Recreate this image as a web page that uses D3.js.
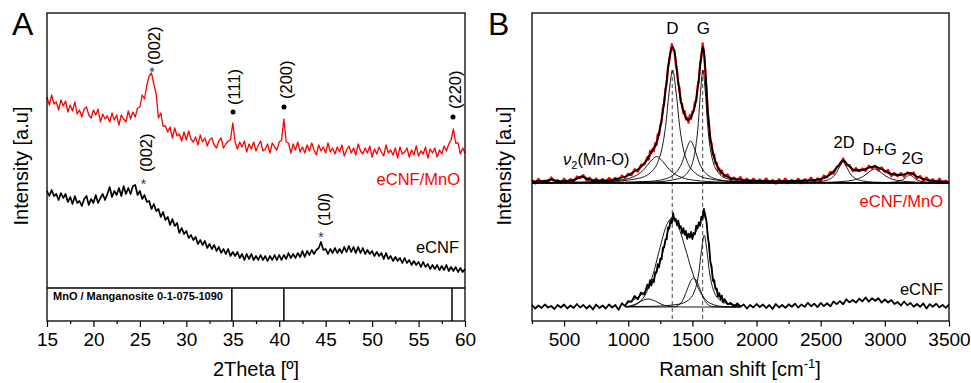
<!DOCTYPE html>
<html><head><meta charset="utf-8">
<script src="https://cdn.jsdelivr.net/npm/d3@7"></script>
<style>
html,body{margin:0;padding:0;background:#fff;}
svg{display:block;}
</style></head><body>
<svg id="chart" width="971" height="383"></svg>
<script>
// ================= DATA =================
// ---- Panel A: XRD (2Theta from 15 to 60, step 0.25) ----
const xrdStart = 15, xrdStep = 0.25;
const xrdMnO = [
191,183,193,184,186,178,188,182,187,176,
183,177,186,174,178,171,179,181,173,170,
178,173,179,166,174,169,172,166,175,168,
173,163,173,169,166,177,169,176,171,180,
181,193,189,203,212,215,204,194,170,175,
162,162,156,161,150,160,152,154,147,156,
148,157,149,146,151,143,153,146,150,142,
148,150,143,140,147,150,140,144,147,148,
165,146,139,146,141,147,136,144,139,146,
137,143,147,137,139,144,135,145,141,138,
146,148,169,146,145,135,144,138,146,136,
141,135,143,137,145,138,133,143,137,141,
135,145,136,140,134,141,136,143,132,138,
142,135,140,133,144,137,134,140,135,142,
131,139,134,141,136,132,143,135,138,133,
140,130,141,134,136,140,131,138,133,142,
132,137,134,141,130,139,135,140,131,138,
134,142,137,144,148,159,145,145,134,140,
135];
const xrdCNF = [
97,92,98,92,94,88,95,90,94,86,
91,84,92,85,87,82,89,92,83,89,
85,93,85,90,94,88,94,101,91,97,
93,100,92,102,94,100,94,102,103,93,
97,89,93,86,87,79,84,77,79,71,
76,68,71,63,69,62,65,55,60,54,
57,50,53,48,51,44,48,43,47,40,
44,39,43,37,41,35,39,34,39,32,
36,32,36,30,34,28,34,29,34,28,
32,28,33,28,32,27,32,28,33,28,
33,28,33,29,35,30,34,30,35,31,
37,31,37,33,38,34,38,40,46,38,
39,34,39,35,40,35,39,35,41,36,
42,36,41,35,41,35,40,34,38,34,
37,32,36,32,35,29,35,29,32,27,
31,27,30,25,30,25,28,23,27,23,
26,21,26,21,24,19,23,19,23,18,
22,18,23,17,21,17,21,16,20,16,
19];
const xrdRefLines = [34.9, 40.5, 58.6];   // MnO / Manganosite 0-1-075-1090
const xrdTicks = [15,20,25,30,35,40,45,50,55,60];
const xrdMinorTicks = [17.5,22.5,27.5,32.5,37.5,42.5,47.5,52.5,57.5];

// ---- Panel B: Raman ----
const ramanShift = d3.range(250,1150,25).concat(d3.range(1150,1750,10), d3.range(1750,3501,25));
const ramanMnO = [
3,-0.5,4,0.8,2.5,0.2,5.5,1.3,3,-0.1,4.3,1.1,4,1.3,6.5,4.8,7.9,2.7,5.4,0.7,
4.5,1,4.1,0.6,5.2,2.4,5.1,2.7,7.5,5,9.3,7.8,13.8,11.3,18.4,18.4,
26.2,23.4,32.1,29.8,34,31.8,40,37.8,49,48,
57.5,61,75,79.9,94.2,99,116,122,131.5,139,
133,132.5,119,112.5,99,95.1,80.5,79.3,69.7,72,
63.5,65.3,60.4,67.9,64.3,71.5,72.5,81.3,81.8,95.9,
102,119,126,139.7,131,113,96,70.8,58.7,42,
40,28,28.5,19.5,20.3,12.7,14.5,9.3,12.5,8.3,
6.5,8.5,2.5,5.5,3,6,1,4.3,0.1,4.4,
1.2,3.7,0.1,4.6,0.5,3,-0.6,3.9,0.8,4.4,
0,3.1,0.7,4.3,-0.2,3.9,1.5,5.4,1.3,4.6,
2,7.6,5.6,11.2,9.3,16.3,18.1,24.5,17.6,18,
11.8,15,11.75,14.5,12,17.3,14.5,17.3,12.6,15.7,
11.1,13.1,7,10.1,6.8,10.1,6.3,10.5,8.6,10.6,
4.5,7,2,5.5,1.5,3.75,0,4.25,0,2.35,
-0.8];
const ramanCNF = [
2,-1.5,1.5,-1,2.5,-0.5,1,-2,2,-0.5,2.5,-1.5,1.5,-1,3,-0.5,2,-1.5,1.5,-2.5,
2.5,-1,1.5,-1.5,2.5,-0.5,2,-2.9,3.7,0.9,6,5.1,11,7.7,14.5,12.3,
22.5,19.2,26.8,21.5,27.2,24.8,34.8,34.3,42.9,39.9,
48.5,47.5,59.3,59.6,67.4,67.7,79.5,78.3,86.6,83.8,
93.9,86.3,88.2,81.6,86.5,79,80.7,73.7,78.8,72.4,
76,68.1,73.3,69.5,75.2,67.9,74.2,72.6,81.4,78.8,
84.6,81.1,90.4,88.2,98,90,85.7,70.1,62.3,45.2,
40.2,26,27,18,18.5,10.5,13.8,7.9,11.4,4.5,
7.9,2.8,4.2,0.4,3.6,0.3,2.5,-1.5,2,-0.5,
3,0,2.5,-1,2,-2,3,-0.5,2,-0.9,
2.7,0.25,3.3,-0.6,2.5,0.1,4.2,0.75,3.3,-0.1,
4,0.9,3.75,0.6,5.5,2.9,5.8,2.75,7.7,4.6,
7,4.4,8.3,5.7,9.5,5.4,8.7,6.25,8.8,4.4,
7.5,4.5,7,3,5,1.5,5.5,1.75,4,0.25,
3,0.25,3.5,-1.55,2.9,0.3,3.25,-0.3,2.1,-0.95,
2.5];
const ramanOffsetMnO = 124, ramanOffsetCNF = 0;

// fitted envelopes [shift, intensity]
const fitMnO = [[250,1.5],[300,1.5],[350,2],[403,3.5],[450,2],[500,1.8],[550,2.5],[600,4.5],[637,6.5],[680,4.5],[750,2.5],[850,2.7],[935,5],[990,7],[1040,11],[1090,15],[1140,22],[1190,33],[1221,40],[1250,56],[1275,76],[1300,103],[1325,128],[1346,136],[1365,128],[1385,106],[1410,82],[1440,68],[1467,63],[1495,67],[1525,80],[1550,104],[1570,128],[1582,136],[1595,125],[1610,92],[1625,64],[1640,45],[1660,30],[1680,21],[1710,13],[1750,8],[1800,5],[1900,3],[2000,2.2],[2200,1.8],[2400,2.5],[2500,4],[2580,9],[2630,16],[2674,22.6],[2720,17],[2770,12.5],[2830,13],[2880,15.5],[2921,16.5],[2970,14],[3050,9],[3120,8],[3194,10],[3250,6.5],[3350,2.5],[3450,1.5],[3500,1.2]];
const fitCNF = [[980,3],[1039,7],[1117,14],[1195,27],[1260,50],[1311,77],[1346,90],[1403,81],[1455,71],[1507,72],[1558,84],[1597,95],[1615,80],[1636,51],[1655,33],[1675,21],[1705,12],[1740,7],[1818,2],[1870,1.5]];

// fitted components, eCNF/MnO
const compMnO_400 = [[250,0.15],[333,0.6],[368,1.5],[385,2.4],[403,3],[421,2.4],[438,1.5],[473,0.6],[578,0.12],[900,0.02],[3500,0]];
const compMnO_640 = [[250,0.08],[502,0.6],[547,1.2],[570,1.85],[592,3],[615,4.8],[637,6],[659,4.8],[682,3],[704,1.85],[727,1.2],[772,0.6],[862,0.23],[1087,0.06],[3500,0]];
const compMnO_1220 = [[250,0.28],[721,1],[921,2.65],[1021,5.3],[1071,8.2],[1121,13.25],[1171,21.2],[1221,26.5],[1271,21.2],[1321,13.25],[1371,8.2],[1421,5.3],[1521,2.65],[1721,1],[2221,0.26],[3500,0.04]];
const compMnO_D = [[250,0.28],[796,1.1],[1071,4.35],[1181,11.3],[1236,22.6],[1263.5,34.8],[1291,56.5],[1318.5,90.4],[1346,113],[1373.5,90.4],[1401,56.5],[1428.5,34.8],[1456,22.6],[1511,11.3],[1621,4.35],[1896,1.1],[3500,0.07]];
const compMnO_1490 = [[250,0.11],[836,0.42],[1161,1.6],[1291,4.2],[1356,8.4],[1388.5,12.9],[1421,21],[1453.5,33.6],[1486,42],[1518.5,33.6],[1551,21],[1583.5,12.9],[1616,8.4],[1681,4.2],[1811,1.6],[2136,0.42],[3500,0.04]];
const compMnO_G = [[250,0.09],[1202,1.1],[1392,4.35],[1468,11.3],[1506,22.6],[1525,34.8],[1544,56.5],[1563,90.4],[1582,113],[1601,90.4],[1620,56.5],[1639,34.8],[1658,22.6],[1696,11.3],[1772,4.35],[1962,1.1],[3500,0.06]];
const compMnO_2D = [[250,0.01],[2174,0.21],[2424,0.8],[2524,2.1],[2574,4.2],[2599,6.5],[2624,10.5],[2649,16.8],[2674,21],[2699,16.8],[2724,10.5],[2749,6.5],[2774,4.2],[2824,2.1],[2924,0.8],[3174,0.21],[3500,0.05]];
const compMnO_DG = [[250,0.01],[2071,0.14],[2496,0.54],[2666,1.4],[2751,2.8],[2793.5,4.3],[2836,7],[2878.5,11.2],[2921,14],[2963.5,11.2],[3006,7],[3048.5,4.3],[3091,2.8],[3176,1.4],[3346,0.54],[3500,0.3]];
const compMnO_2G = [[250,0],[2744,0.08],[2969,0.31],[3059,0.8],[3104,1.6],[3126.5,2.46],[3149,4],[3171.5,6.4],[3194,8],[3216.5,6.4],[3239,4],[3261.5,2.46],[3284,1.6],[3329,0.8],[3419,0.31],[3500,0.19]];
// fitted components, eCNF
const compCNF_1150 = [[980,0.3],[1006,0.8],[1056,2.9],[1106,6.2],[1156,8],[1206,6.2],[1256,2.9],[1306,0.8],[1356,0.14],[1450,0],[1870,0]];
const compCNF_D = [[980,0],[1042,1.5],[1092,5.3],[1142,14.5],[1192,32],[1242,56.5],[1292,79.5],[1342,89],[1392,80],[1442,60],[1492,38],[1542,20],[1592,9],[1642,3.5],[1742,0.5],[1870,0.1]];
const compCNF_1510 = [[980,0],[1300,0],[1360,0.3],[1410,3.9],[1435,9.4],[1460,17.6],[1485,25.6],[1510,29],[1535,25.6],[1560,17.6],[1585,9.4],[1610,3.9],[1660,0.3],[1720,0],[1870,0]];
const compCNF_G = [[980,0.4],[1192,0.71],[1392,2.77],[1472,7.2],[1512,14.4],[1532,22.2],[1552,36],[1572,57.6],[1592,72],[1612,57.6],[1632,36],[1652,22.2],[1672,14.4],[1712,7.2],[1792,2.77],[1870,1.5]];
const ramanBandLines = [1343, 1580];   // D and G
const ramanTicks = [500,1000,1500,2000,2500,3000,3500];
const ramanMinorTicks = [250,750,1250,1750,2250,2750,3250];

// ================= DRAWING =================
const FONT = '"Liberation Sans", Arial, Helvetica, sans-serif';
const svg = d3.select("#chart").attr("font-family", FONT);

function drawAxis(g, scale, major, minor, majorLen) {
  const ax = d3.axisBottom(scale).tickValues(major).tickSize(majorLen).tickPadding(6)
    .tickSizeOuter(0).tickFormat(d3.format("d"));
  const a = g.append("g").attr("transform","translate(0,321)").call(ax);
  a.select(".domain").remove();
  a.attr("font-family", FONT).attr("font-size", 19);
  a.selectAll("line").attr("stroke","#000").attr("stroke-width",1.2);
  a.selectAll("text").attr("fill","#000");
  const m = g.append("g").attr("transform","translate(0,321)")
    .call(d3.axisBottom(scale).tickValues(minor).tickSize(3).tickFormat("").tickSizeOuter(0));
  m.select(".domain").remove();
  m.selectAll("line").attr("stroke","#000").attr("stroke-width",1.2);
}

// ---------- Panel A ----------
const gA = svg.append("g");
const xA = d3.scaleLinear().domain([15,60]).range([47,465]);
const yA = d3.scaleLinear().domain([-33,275]).range([321,13]);
const xrdAngles = xrdMnO.map((d,i) => xrdStart + i*xrdStep);
const lineA = d3.line().x((d,i)=>xA(xrdAngles[i])).y(d=>yA(d));

gA.append("path").datum(xrdCNF).attr("d",lineA).attr("fill","none")
  .attr("stroke","#000").attr("stroke-width",1.7).attr("stroke-linejoin","round");
gA.append("path").datum(xrdMnO).attr("d",lineA).attr("fill","none")
  .attr("stroke","#ff0000").attr("stroke-width",1.3).attr("stroke-linejoin","round");

// reference strip
gA.append("line").attr("x1",xA(15)).attr("x2",xA(60)).attr("y1",yA(0)).attr("y2",yA(0))
  .attr("stroke","#000").attr("stroke-width",1.3);
gA.selectAll("line.ref").data(xrdRefLines).join("line").attr("class","ref")
  .attr("x1",d=>xA(d)).attr("x2",d=>xA(d)).attr("y1",yA(0)).attr("y2",yA(-33))
  .attr("stroke","#000").attr("stroke-width",1.5);
gA.append("text").attr("x",53).attr("y",300).attr("font-size",11).attr("font-weight","bold")
  .text("MnO / Manganosite 0-1-075-1090");

gA.append("rect").attr("x",47).attr("y",13).attr("width",418).attr("height",308)
  .attr("fill","none").attr("stroke","#000").attr("stroke-width",1.3);
drawAxis(gA, xA, xrdTicks, xrdMinorTicks, 6);

// annotations A
function rotLabel(g, x, yBottom, parts, size) {
  const t = g.append("text").attr("transform",`translate(${x},${yBottom}) rotate(-90)`)
    .attr("font-size", size||16.5).attr("dominant-baseline","central");
  parts.forEach(p => { const s = t.append("tspan").text(p.t); if (p.i) s.attr("font-style","italic"); });
}
function star(g, x, yc) {
  g.append("text").attr("x",x).attr("y",yc+8).attr("text-anchor","middle").attr("font-size",14).attr("fill","#333").text("*");
}
function dot(g, x, y) { g.append("circle").attr("cx",x).attr("cy",y).attr("r",2.5).attr("fill","#000"); }

rotLabel(gA, 154, 65, [{t:"(002)"}]); star(gA, 152, 69);
rotLabel(gA, 233.5, 105, [{t:"(111)"}]); dot(gA, 233, 112);
rotLabel(gA, 285.5, 99, [{t:"(200)"}]); dot(gA, 284, 107);
rotLabel(gA, 454.5, 109, [{t:"(220)"}]); dot(gA, 453, 117);
rotLabel(gA, 146, 172, [{t:"(002)"}]); star(gA, 143.5, 181);
rotLabel(gA, 323.5, 226, [{t:"(10"},{t:"l",i:true},{t:")"}]); star(gA, 321, 234);

gA.append("text").attr("x",460).attr("y",185).attr("text-anchor","end").attr("font-size",16.5).attr("fill","#ff0000").text("eCNF/MnO");
gA.append("text").attr("x",459).attr("y",253).attr("text-anchor","end").attr("font-size",16.5).attr("fill","#000").text("eCNF");

gA.append("text").attr("x",256).attr("y",376).attr("text-anchor","middle").attr("font-size",20).text("2Theta [º]");
gA.append("text").attr("transform","translate(28,166) rotate(-90)").attr("text-anchor","middle").attr("font-size",20).text("Intensity [a.u]");
gA.append("text").attr("x",12).attr("y",35).attr("font-size",32).text("A");

// ---------- Panel B ----------
const gB = svg.append("g");
const xB = d3.scaleLinear().domain([250,3500]).range([532,949]);
const yB = d3.scaleLinear().domain([-14,295]).range([321,12]);

const lineDataB = off => d3.line().x((d,i)=>xB(ramanShift[i])).y(d=>yB(d+off));
const lineFitB = off => d3.line().x(d=>xB(d[0])).y(d=>yB(d[1]+off)).curve(d3.curveMonotoneX);

// dashed band lines
gB.selectAll("line.band").data(ramanBandLines).join("line").attr("class","band")
  .attr("x1",d=>xB(d)).attr("x2",d=>xB(d)).attr("y1",yB(ramanOffsetMnO+113)).attr("y2",yB(-14))
  .attr("stroke","#444").attr("stroke-width",1).attr("stroke-dasharray","4,3");

// eCNF/MnO
gB.append("path").datum(ramanMnO).attr("d",lineDataB(ramanOffsetMnO)).attr("fill","none")
  .attr("stroke","#ff0000").attr("stroke-width",2.2).attr("stroke-linejoin","round");
[compMnO_400, compMnO_640, compMnO_1220, compMnO_D, compMnO_1490, compMnO_G, compMnO_2D, compMnO_DG, compMnO_2G]
  .forEach(c => gB.append("path").datum(c).attr("d",lineFitB(ramanOffsetMnO)).attr("fill","none")
    .attr("stroke","#000").attr("stroke-width",0.9));
gB.append("path").datum(fitMnO).attr("d",lineFitB(ramanOffsetMnO)).attr("fill","none")
  .attr("stroke","#000").attr("stroke-width",1.8);

// eCNF
[compCNF_1150, compCNF_D, compCNF_1510, compCNF_G]
  .forEach(c => gB.append("path").datum(c).attr("d",lineFitB(ramanOffsetCNF)).attr("fill","none")
    .attr("stroke","#000").attr("stroke-width",0.9));
gB.append("path").datum(ramanCNF).attr("d",lineDataB(ramanOffsetCNF)).attr("fill","none")
  .attr("stroke","#000").attr("stroke-width",1.8).attr("stroke-linejoin","round");
gB.append("path").datum(fitCNF).attr("d",lineFitB(ramanOffsetCNF)).attr("fill","none")
  .attr("stroke","#000").attr("stroke-width",1);

gB.append("rect").attr("x",532).attr("y",13).attr("width",417).attr("height",308)
  .attr("fill","none").attr("stroke","#000").attr("stroke-width",1.3);
drawAxis(gB, xB, ramanTicks, ramanMinorTicks, 5.5);

// annotations B
gB.append("text").attr("x",672.3).attr("y",33.5).attr("text-anchor","middle").attr("font-size",17).text("D");
gB.append("text").attr("x",703.3).attr("y",33.5).attr("text-anchor","middle").attr("font-size",17).text("G");
gB.append("text").attr("x",844).attr("y",147.5).attr("text-anchor","middle").attr("font-size",16.5).text("2D");
gB.append("text").attr("x",879.7).attr("y",155).attr("text-anchor","middle").attr("font-size",16.5).text("D+G");
gB.append("text").attr("x",912.5).attr("y",163.5).attr("text-anchor","middle").attr("font-size",16.5).text("2G");
const nu = gB.append("text").attr("x",563).attr("y",165).attr("font-size",16.5);
nu.append("tspan").attr("font-style","italic").text("ν");
nu.append("tspan").attr("font-size",11).attr("dy",4).text("2");
nu.append("tspan").attr("dy",-4).text("(Mn-O)");

gB.append("text").attr("x",943).attr("y",207).attr("text-anchor","end").attr("font-size",16.5).attr("fill","#ff0000").text("eCNF/MnO");
gB.append("text").attr("x",943).attr("y",295).attr("text-anchor","end").attr("font-size",16.5).attr("fill","#000").text("eCNF");

const xt = gB.append("text").attr("x",740).attr("y",376).attr("text-anchor","middle").attr("font-size",20);
xt.append("tspan").text("Raman shift [cm");
xt.append("tspan").attr("font-size",13).attr("dy",-8).text("-1");
xt.append("tspan").attr("dy",8).text("]");
gB.append("text").attr("transform","translate(511,166) rotate(-90)").attr("text-anchor","middle").attr("font-size",20).text("Intensity [a.u]");
gB.append("text").attr("x",488).attr("y",35).attr("font-size",32).text("B");
</script>
</body></html>
